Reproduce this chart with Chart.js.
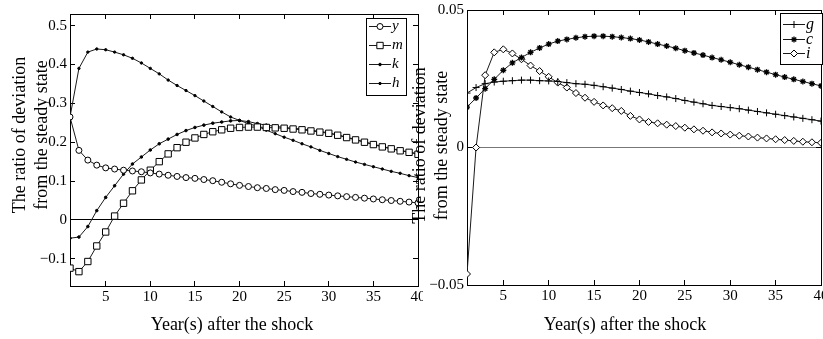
<!DOCTYPE html>
<html>
<head>
<meta charset="utf-8">
<script src="https://cdn.jsdelivr.net/npm/chart.js@4/dist/chart.umd.min.js"></script>
<style>
  html, body { margin: 0; padding: 0; background: #fff; }
  body { width: 823px; height: 339px; position: relative; overflow: hidden; }
  canvas { position: absolute; top: 0; }
</style>
</head>
<body>
<canvas id="left" width="423" height="339" style="left:0px"></canvas>
<canvas id="right" width="414" height="339" style="left:409px"></canvas>
<script>
// ---- data ----
const years = [1,2,3,4,5,6,7,8,9,10,11,12,13,14,15,16,17,18,19,20,21,22,23,24,25,26,27,28,29,30,31,32,33,34,35,36,37,38,39,40];

const ySeries = [0.265,0.179,0.154,0.141,0.134,0.131,0.128,0.126,0.124,0.121,0.118,0.115,0.112,0.109,0.107,0.104,0.101,0.097,0.093,0.089,0.086,0.083,0.081,0.078,0.076,0.073,0.071,0.068,0.066,0.064,0.062,0.060,0.058,0.056,0.054,0.052,0.050,0.048,0.046,0.044];
const mSeries = [-0.124,-0.133,-0.107,-0.067,-0.031,0.010,0.043,0.075,0.103,0.128,0.150,0.170,0.186,0.200,0.211,0.220,0.227,0.232,0.236,0.238,0.239,0.239,0.238,0.237,0.236,0.234,0.232,0.229,0.226,0.223,0.218,0.212,0.206,0.200,0.194,0.188,0.183,0.178,0.174,0.169];
const kSeries = [-0.047,-0.044,-0.017,0.024,0.058,0.088,0.118,0.144,0.162,0.180,0.196,0.208,0.220,0.230,0.238,0.244,0.249,0.252,0.255,0.256,0.253,0.248,0.244,0.241,0.238,0.236,0.234,0.231,0.228,0.224,0.219,0.213,0.207,0.201,0.195,0.189,0.184,0.179,0.175,0.170];
const hSeries = [0.265,0.390,0.432,0.440,0.438,0.432,0.425,0.416,0.404,0.390,0.376,0.360,0.346,0.333,0.320,0.306,0.292,0.278,0.265,0.256,0.248,0.241,0.231,0.222,0.213,0.205,0.196,0.188,0.179,0.171,0.163,0.156,0.149,0.143,0.137,0.131,0.125,0.120,0.114,0.109];

const gSeries = [0.0198,0.0218,0.0232,0.0238,0.0241,0.0243,0.0245,0.0245,0.0243,0.0242,0.0240,0.0236,0.0232,0.0230,0.0226,0.0221,0.0216,0.0211,0.0205,0.0200,0.0195,0.0189,0.0184,0.0178,0.0171,0.0165,0.0159,0.0153,0.0149,0.0145,0.0141,0.0136,0.0131,0.0126,0.0121,0.0116,0.0111,0.0106,0.0101,0.0096];
const cSeries = [0.0147,0.0180,0.0214,0.0248,0.0281,0.0308,0.0327,0.0346,0.0362,0.0376,0.0387,0.0393,0.0399,0.0403,0.0405,0.0405,0.0403,0.0400,0.0396,0.0391,0.0384,0.0376,0.0369,0.0361,0.0352,0.0344,0.0336,0.0327,0.0319,0.0310,0.0301,0.0292,0.0283,0.0274,0.0265,0.0256,0.0248,0.0240,0.0232,0.0224];
const iSeries = [-0.0460,0.0000,0.0263,0.0346,0.0357,0.0342,0.0321,0.0298,0.0278,0.0257,0.0236,0.0218,0.0198,0.0181,0.0166,0.0153,0.0143,0.0133,0.0115,0.0102,0.0093,0.0088,0.0083,0.0078,0.0072,0.0066,0.0061,0.0055,0.0051,0.0047,0.0043,0.0040,0.0036,0.0033,0.0030,0.0027,0.0024,0.0021,0.0019,0.0017];

const leftYTicks = [-0.1, 0, 0.1, 0.2, 0.3, 0.4, 0.5];
const rightYTicks = [-0.05, 0, 0.05];
const xTicks = [5, 10, 15, 20, 25, 30, 35, 40];

const yTitle = ['The ratio of deviation', 'from the steady state'];
const xTitle = 'Year(s) after the shock';

// ---- helpers ----
const pts = (s) => years.map((t, i) => ({ x: t, y: s[i] }));
const SERIF = '"Liberation Serif", "Times New Roman", serif';
const INK = '#1a1a1a';

function fmt(v) {
  if (Math.abs(v) < 1e-9) return '0';
  return (v < 0 ? '\u2212' : '') + String(Math.abs(v));
}
function fixSize(size) {
  return function (scale) {
    if (scale.isHorizontal()) scale.height = size; else scale.width = size;
    scale.paddingLeft = 0; scale.paddingRight = 0; scale.paddingTop = 0; scale.paddingBottom = 0;
  };
}
const setTicks = (list) => function (scale) { scale.ticks = list.map(v => ({ value: v })); };

// shift axis titles slightly (the reference titles are not centred on the axes)
const titleShift = {
  id: 'titleShift',
  afterLayout(chart, args, o) {
    Object.keys(o.shifts || {}).forEach(id => {
      const sc = chart.scales[id];
      if (!sc || sc._shiftPatched) return;
      const orig = sc.drawTitle;
      const s = o.shifts[id];
      sc.drawTitle = function () {
        const ctx = this.ctx;
        ctx.save();
        ctx.translate(s.dx || 0, s.dy || 0);
        orig.apply(this, arguments);
        ctx.restore();
      };
      sc._shiftPatched = true;
    });
  }
};

const boxLegend = {
  id: 'boxLegend',
  afterDraw(chart, args, o) {
    const ctx = chart.ctx, a = chart.chartArea;
    const right = a.right - o.insetRight;
    const left = right - o.width;
    const top = a.top + o.insetTop;
    ctx.save();
    ctx.fillStyle = '#fff';
    ctx.fillRect(left, top, o.width, o.height);
    ctx.strokeStyle = '#000';
    ctx.lineWidth = 1;
    ctx.strokeRect(Math.round(left) + 0.5, Math.round(top) + 0.5, o.width, o.height);
    chart.data.datasets.forEach((ds, i) => {
      const cy = Math.round(top + o.first + o.row * i) + 0.5;
      const x1 = left + o.lineStart, x2 = x1 + o.sample;
      ctx.strokeStyle = ds.borderColor;
      ctx.lineWidth = ds.borderWidth;
      ctx.beginPath(); ctx.moveTo(x1, cy); ctx.lineTo(x2, cy); ctx.stroke();
      ctx.fillStyle = ds.pointBackgroundColor;
      ctx.strokeStyle = ds.pointBorderColor;
      ctx.lineWidth = ds.pointBorderWidth;
      Chart.helpers.drawPoint(ctx, { pointStyle: ds.pointStyle, radius: ds.pointRadius, borderWidth: ds.pointBorderWidth, rotation: 0 }, (x1 + x2) / 2, cy);
      ctx.fillStyle = '#000';
      ctx.font = 'italic ' + o.fontSize + 'px ' + SERIF;
      ctx.textBaseline = 'middle';
      ctx.textAlign = 'left';
      ctx.fillText(ds.label, x2 + 1, cy);
    });
    ctx.restore();
  }
};

function ds(label, data, style, radius, fill, bw) {
  return {
    label, data: pts(data),
    borderColor: INK, borderWidth: 1,
    pointStyle: style, pointRadius: radius, pointHoverRadius: radius,
    pointBackgroundColor: fill, pointBorderColor: '#000', pointBorderWidth: bw,
    tension: 0, fill: false
  };
}

function makeOptions(cfg) {
  const tickFont = { family: SERIF, size: 15 };
  return {
    responsive: false, animation: false, devicePixelRatio: 1,
    layout: { autoPadding: false, padding: { top: cfg.padTop, right: cfg.padRight, left: 0, bottom: 0 } },
    plugins: { legend: { display: false }, tooltip: { enabled: false }, boxLegend: cfg.legend, titleShift: { shifts: cfg.shifts } },
    scales: {
      x: {
        type: 'linear', position: 'bottom', min: 1, max: 40,
        afterFit: fixSize(cfg.xHeight),
        afterBuildTicks: setTicks(xTicks),
        ticks: { autoSkip: false, maxRotation: 0, padding: 7, color: '#000', font: tickFont,
                 callback: (v) => String(v) },
        grid: { drawOnChartArea: false, drawTicks: true, tickLength: -5, tickColor: '#000' },
        border: { display: true, color: '#000', width: 1 },
        title: { display: true, text: xTitle, color: '#000', font: { family: SERIF, size: 18 }, padding: { top: 0, bottom: 3 } }
      },
      x2: {
        type: 'linear', axis: 'x', position: 'top', min: 1, max: 40,
        afterFit: fixSize(0),
        afterBuildTicks: setTicks(xTicks),
        ticks: { display: false },
        grid: { drawOnChartArea: false, drawTicks: true, tickLength: -5, tickColor: '#000' },
        border: { display: true, color: '#000', width: 1 }
      },
      y: {
        type: 'linear', position: 'left', min: cfg.yMin, max: cfg.yMax,
        afterFit: fixSize(cfg.yWidth),
        afterBuildTicks: setTicks(cfg.yTicks),
        ticks: { autoSkip: false, padding: 8, color: '#000', font: tickFont, callback: (v) => fmt(v) },
        grid: { drawOnChartArea: true, drawTicks: true, tickLength: -5, tickColor: '#000', lineWidth: 1,
                color: (c) => (c.tick && Math.abs(c.tick.value) < 1e-9) ? cfg.zeroColor : 'rgba(0,0,0,0)' },
        border: { display: true, color: '#000', width: 1 },
        title: { display: true, text: yTitle, color: '#000', font: { family: SERIF, size: 18, lineHeight: 1.25 }, padding: { top: cfg.titlePad, bottom: 0 } }
      },
      y2: {
        type: 'linear', axis: 'y', position: 'right', min: cfg.yMin, max: cfg.yMax,
        afterFit: fixSize(0),
        afterBuildTicks: setTicks(cfg.yTicks),
        ticks: { display: false },
        grid: { drawOnChartArea: false, drawTicks: true, tickLength: -5, tickColor: '#000' },
        border: { display: true, color: '#000', width: 1 }
      }
    }
  };
}

new Chart(document.getElementById('left'), {
  type: 'line',
  data: {
    datasets: [
      ds('y', ySeries, 'circle', 3, '#fff', 1),
      ds('m', mSeries, 'rect', 4.5, '#fff', 1),
      ds('k', kSeries, 'circle', 1.3, '#000', 1),
      ds('h', hSeries, 'circle', 1.2, '#000', 1)
    ]
  },
  options: makeOptions({
    padTop: 14, padRight: 5, xHeight: 53, yWidth: 70,
    yMin: -0.17, yMax: 0.53, yTicks: leftYTicks, zeroColor: '#000', titlePad: 9,
    shifts: { x: { dx: -12 }, y: { dy: -15 } },
    legend: { insetRight: 12, insetTop: 4, width: 40, height: 77, first: 8, row: 19, lineStart: 3, sample: 22, fontSize: 15 }
  }),
  plugins: [boxLegend, titleShift]
});

new Chart(document.getElementById('right'), {
  type: 'line',
  data: {
    datasets: [
      ds('g', gSeries, 'cross', 3.5, '#000', 1),
      ds('c', cSeries, 'star', 3, '#000', 1.3),
      ds('i', iSeries, 'rectRot', 3.5, '#fff', 1)
    ]
  },
  options: makeOptions({
    padTop: 10, padRight: 2, xHeight: 54, yWidth: 58,
    yMin: -0.05, yMax: 0.05, yTicks: rightYTicks, zeroColor: '#777', titlePad: 0,
    shifts: { x: { dx: -19 }, y: { dy: -2 } },
    legend: { insetRight: -1, insetTop: 3, width: 42, height: 51, first: 11, row: 14.5, lineStart: 3, sample: 22, fontSize: 16 }
  }),
  plugins: [boxLegend, titleShift]
});
</script>
</body>
</html>
